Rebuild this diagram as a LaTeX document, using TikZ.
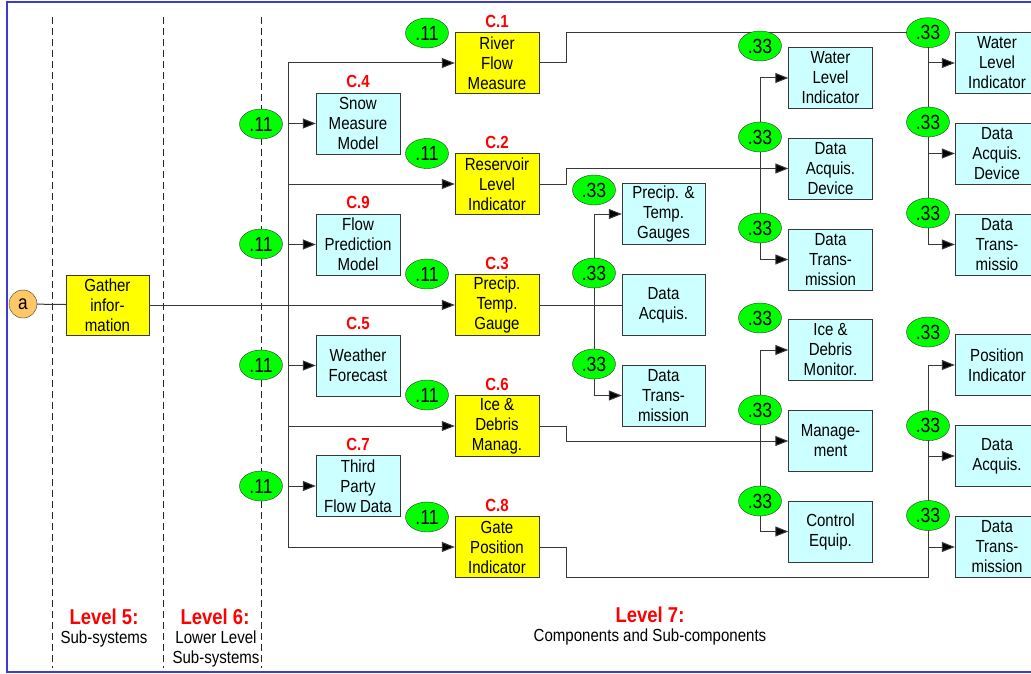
\documentclass[tikz,border=0pt]{standalone}
\usepackage{fontspec}
\setmainfont{Liberation Sans}[FakeStretch=0.86]
\usetikzlibrary{shapes.geometric,arrows.meta}
\definecolor{ybox}{HTML}{FFFF00}
\definecolor{cfill}{HTML}{CCFFFF}
\definecolor{gfill}{HTML}{00FF00}
\definecolor{ofill}{HTML}{FFC866}
\definecolor{frameblue}{HTML}{3C3CD2}
\definecolor{lred}{HTML}{FF0000}
\definecolor{lgray}{HTML}{383838}
\tikzset{
  txt/.style={font=\fontsize{17.5}{20}\selectfont, align=center},
  ybx/.style={txt, draw=lgray, fill=ybox, minimum width=84, minimum height=61, inner sep=0pt},
  cbx/.style={txt, draw=lgray, fill=cfill, minimum width=84, minimum height=61, inner sep=0pt},
  gel/.style={ellipse, draw=black!80, fill=gfill, minimum width=43, minimum height=30, inner sep=0pt, font=\fontsize{20.5}{20}\selectfont},
  clab/.style={text=lred, font=\bfseries\fontsize{17.5}{18}\selectfont},
  lvl/.style={text=lred, font=\bfseries\fontsize{21.5}{22}\selectfont},
  sub/.style={font=\fontsize{17.5}{20}\selectfont, align=center},
  ln/.style={draw=lgray, line width=1pt},
  arr/.style={ln, -{Triangle[length=13pt,width=10pt,fill=black]}},
  dsh/.style={draw=black!85, line width=0.8pt, dash pattern=on 7pt off 4pt},
}
\begin{document}
\begin{tikzpicture}[x=1pt,y=-1pt]
\useasboundingbox (0,0) rectangle (1031,674);
% frame
\draw[frameblue, line width=2.5pt] (7,2) rectangle (1050,672);
% dashed level separators
\coordinate (d1t) at (52,17); \coordinate (d1b) at (52,668);
\coordinate (d2t) at (163,17); \coordinate (d2b) at (163,668);
\coordinate (d3t) at (261,17); \coordinate (d3b) at (261,668);
\draw[dsh] (d1t) -- (d1b);
\draw[dsh] (d2t) -- (d2b);
\draw[dsh] (d3t) -- (d3b);

% level 5 nodes
\node[circle, draw=black!80, fill=ofill, minimum size=28, inner sep=0pt, font=\fontsize{20}{20}\selectfont] (a) at (23,304) {a};
\node[ybx, minimum width=83, minimum height=60] (g) at (107.5,305) {Gather\\infor-\\mation};

% level 7 yellow
\node[ybx] (c1) at (497,63) {River\\Flow\\Measure};
\node[ybx] (c2) at (497,184) {Reservoir\\Level\\Indicator};
\node[ybx] (c3) at (497,305) {Precip.\\Temp.\\Gauge};
\node[ybx] (c6) at (497,426) {Ice \&\\Debris\\Manag.};
\node[ybx] (c8) at (497,547) {Gate\\Position\\Indicator};
\node[clab] (l1) at (497,21) {C.1};
\node[clab] (l2) at (497,142) {C.2};
\node[clab] (l3) at (497,263) {C.3};
\node[clab] (l6) at (497,384) {C.6};
\node[clab] (l8) at (497,505) {C.8};

% level 6/7 cyan
\node[cbx] (c4) at (358,123.5) {Snow\\Measure\\Model};
\node[cbx] (c9) at (358,244.5) {Flow\\Prediction\\Model};
\node[cbx] (c5) at (358,365.5) {Weather\\Forecast};
\node[cbx] (c7) at (358,486) {Third\\Party\\Flow Data};
\node[clab] (l4) at (358,81) {C.4};
\node[clab] (l9) at (358,202) {C.9};
\node[clab] (l5) at (358,323) {C.5};
\node[clab] (l7) at (358,444) {C.7};

% C.3 components
\node[cbx, minimum width=83] (p1) at (663.5,214) {Precip. \&\\Temp.\\Gauges};
\node[cbx, minimum width=83] (p2) at (663.5,305) {Data\\Acquis.};
\node[cbx, minimum width=83] (p3) at (663.5,395.5) {Data\\Trans-\\mission};

% C.2 components
\node[cbx] (w1) at (830.5,78) {Water\\Level\\Indicator};
\node[cbx] (w2) at (830.5,168.5) {Data\\Acquis.\\Device};
\node[cbx] (w3) at (830.5,259.5) {Data\\Trans-\\mission};
% C.6 components
\node[cbx] (i1) at (830.5,350) {Ice \&\\Debris\\Monitor.};
\node[cbx] (i2) at (830.5,441) {Manage-\\ment};
\node[cbx] (i3) at (830.5,531.5) {Control\\Equip.};
% C.1 components
\node[cbx] (r1) at (997,63) {Water\\Level\\Indicator};
\node[cbx] (r2) at (997,153.5) {Data\\Acquis.\\Device};
\node[cbx] (r3) at (997,244.5) {Data\\Trans-\\missio};
% C.8 components
\node[cbx] (s1) at (997,365) {Position\\Indicator};
\node[cbx] (s2) at (997,456) {Data\\Acquis.};
\node[cbx] (s3) at (997,547) {Data\\Trans-\\mission};

% coordinates for routing
\coordinate (t1) at (288,63);
\coordinate (t2) at (288,184);
\coordinate (t6) at (288,426);
\coordinate (t8) at (288,547);
\coordinate (k1) at (288,123.5);
\coordinate (k2) at (288,244.5);
\coordinate (k3) at (288,365.5);
\coordinate (k4) at (288,486);
\coordinate (pt1) at (594,214);
\coordinate (pt3) at (594,395.5);
\coordinate (wt1) at (760,78);
\coordinate (wt3) at (760,259.5);
\coordinate (it1) at (760,350);
\coordinate (it3) at (760,531.5);
\coordinate (rt0) at (928,32.7);
\coordinate (rt1) at (928,63);
\coordinate (rt2) at (928,153.5);
\coordinate (rt3) at (928,244.5);
\coordinate (st0) at (928,577);
\coordinate (st1) at (928,365);
\coordinate (st2) at (928,456);
\coordinate (st3) at (928,547);

% connectors
\draw[ln] (a) -- (g);
\draw[arr] (g.east) -- (c3.west);
\draw[ln] (t1) -- (t8);
\draw[arr] (t1) -- (c1.west);
\draw[arr] (t2) -- (c2.west);
\draw[arr] (t6) -- (c6.west);
\draw[arr] (t8) -- (c8.west);
\draw[arr] (k1) -- (c4.west);
\draw[arr] (k2) -- (c9.west);
\draw[arr] (k3) -- (c5.west);
\draw[arr] (k4) -- (c7.west);

\draw[ln] (c3.east) -- (p2.west);
\draw[ln] (pt1) -- (pt3);
\draw[arr] (pt1) -- (p1.west);
\draw[arr] (pt3) -- (p3.west);

\draw[arr] (c2.east) -- (566,184) -- (566,168.5) -- (w2.west);
\draw[ln] (wt1) -- (wt3);
\draw[arr] (wt1) -- (w1.west);
\draw[arr] (wt3) -- (w3.west);

\draw[arr] (c6.east) -- (566,426) -- (566,441) -- (i2.west);
\draw[ln] (it1) -- (it3);
\draw[arr] (it1) -- (i1.west);
\draw[arr] (it3) -- (i3.west);

\draw[ln] (c1.east) -- (566,63) -- (566,32.7) -- (rt0) -- (rt3);
\draw[arr] (rt1) -- (r1.west);
\draw[arr] (rt2) -- (r2.west);
\draw[arr] (rt3) -- (r3.west);

\draw[ln] (c8.east) -- (566,547) -- (566,577) -- (st0) -- (st1);
\draw[arr] (st1) -- (s1.west);
\draw[arr] (st2) -- (s2.west);
\draw[arr] (st3) -- (s3.west);

% weight ellipses
\node[gel] (e1) at (261,124) {.11};
\node[gel] (e2) at (261,244) {.11};
\node[gel] (e3) at (261,365) {.11};
\node[gel] (e4) at (261,486) {.11};
\node[gel] (f1) at (427,33) {.11};
\node[gel] (f2) at (427,153.5) {.11};
\node[gel] (f3) at (427,274) {.11};
\node[gel] (f6) at (427,395) {.11};
\node[gel] (f8) at (427,517) {.11};
\node[gel] (q1) at (594,190) {.33};
\node[gel] (q2) at (594,273) {.33};
\node[gel] (q3) at (594,364) {.33};
\node[gel] (u1) at (760,46) {.33};
\node[gel] (u2) at (760,137) {.33};
\node[gel] (u3) at (760,228) {.33};
\node[gel] (v1) at (760,318) {.33};
\node[gel] (v2) at (760,410) {.33};
\node[gel] (v3) at (760,501) {.33};
\node[gel] (x1) at (928,32.7) {.33};
\node[gel] (x2) at (928,122) {.33};
\node[gel] (x3) at (928,213) {.33};
\node[gel] (y1) at (928,332) {.33};
\node[gel] (y2) at (928,425.7) {.33};
\node[gel] (y3) at (928,515.5) {.33};

% level labels
\node[lvl] (L5) at (104,617) {Level 5:};
\node[sub] (S5) at (104,639) {Sub-systems};
\node[lvl] (L6) at (215,617) {Level 6:};
\node[sub] (S6) at (216,649) {Lower Level\\Sub-systems};
\node[lvl] (L7) at (650,615) {Level 7:};
\node[sub] (S7) at (650,637) {Components and Sub-components};
\end{tikzpicture}
\end{document}
